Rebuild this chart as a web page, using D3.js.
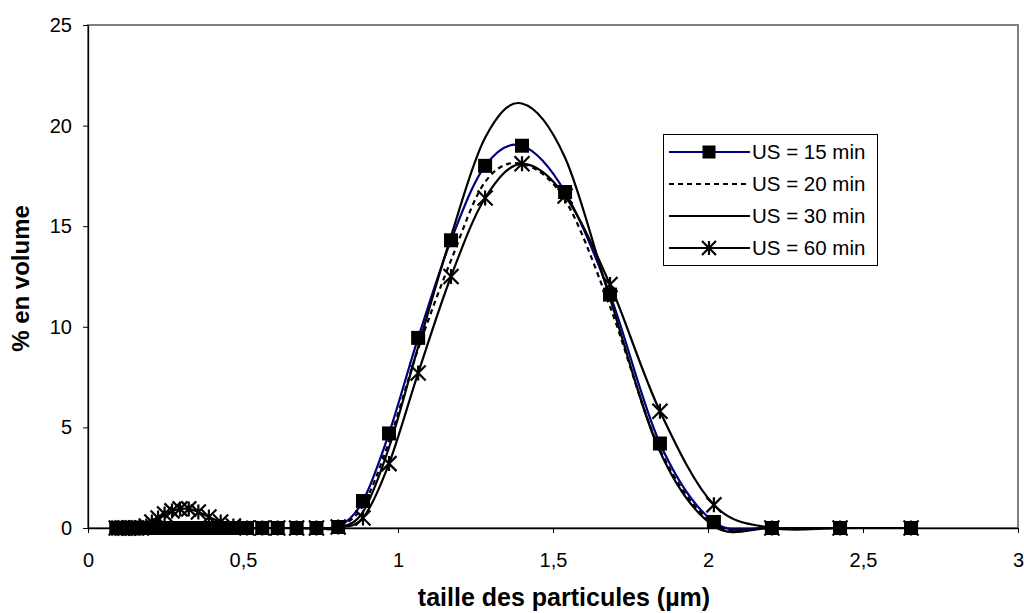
<!DOCTYPE html>
<html><head><meta charset="utf-8">
<script src="https://cdn.jsdelivr.net/npm/d3@7"></script>
<style>
html,body{margin:0;padding:0;background:#fff;}
svg{display:block;font-family:Arial,"Liberation Sans",sans-serif;}
</style></head>
<body><svg id="c" width="1024" height="613"></svg>
<script>
// particle size classes (µm)
const sizes = [0.091,0.0995,0.109,0.119,0.131,0.143,0.157,0.172,0.188,0.206,0.226,0.247,0.271,0.297,0.325,0.356,0.390,0.428,0.469,0.513,0.562,0.612,0.673,0.737,0.807,0.887,0.971,1.065,1.171,1.281,1.40,1.539,1.684,1.845,2.019,2.206,2.426,2.655];
const us15 = [0,0,0,0,0,0,0,0,0,0,0,0,0,0,0,0,0,0,0,0,0,0,0,0,0.05,1.34,4.7,9.45,14.3,18.0,19.0,16.7,11.6,4.2,0.3,0,0,0];
const us20 = [0,0,0,0,0,0,0,0,0,0,0,0,0,0,0,0,0,0,0,0,0,0,0,0,0.05,1.1,4.3,8.9,13.3,17.2,18.1,16.3,11.0,3.9,0.2,0,0,0];
const us30 = [0,0,0,0,0,0,0,0,0,0,0,0,0,0,0,0,0,0,0,0,0,0,0,0,0,0.8,4.0,9.0,14.5,19.4,21.1,18.4,11.4,3.8,0.1,0,0,0];
const us60 = [0,0,0,0,0,0,0,0,0.1,0.3,0.5,0.7,0.85,0.95,0.95,0.8,0.55,0.3,0.1,0,0,0,0,0,0.05,0.5,3.2,7.7,12.5,16.4,18.1,16.5,12.1,5.8,1.15,0,0,0];
const seriesNames = ["US = 15 min","US = 20 min","US = 30 min","US = 60 min"];
const xTicks = [0,0.5,1,1.5,2,2.5,3];
const xTickLabels = ["0","0,5","1","1,5","2","2,5","3"];
const yTicks = [0,5,10,15,20,25];
const xTitle = "taille des particules (µm)";
const yTitle = "% en volume";

const svg = d3.select("#c");
const L=88, T=25, R=1018, B=528;
const x = d3.scaleLinear().domain([0,3]).range([L,R]);
const y = d3.scaleLinear().domain([0,25]).range([B,T]);

// plot area border
svg.append("rect").attr("x",L).attr("y",T).attr("width",R-L).attr("height",B-T)
  .attr("fill","none").attr("stroke","#808080").attr("stroke-width",2);

// axes
const xAxis = d3.axisBottom(x).tickValues(xTicks).tickFormat((d,i)=>xTickLabels[i]).tickSizeInner(5).tickSizeOuter(0).tickPadding(20);
const gx = svg.append("g").attr("transform",`translate(0,${B})`).call(xAxis);
const yAxis = d3.axisLeft(y).tickValues(yTicks).tickFormat(d=>String(d)).tickSizeInner(5).tickSizeOuter(0).tickPadding(11);
const gy = svg.append("g").attr("transform",`translate(${L},0)`).call(yAxis);
[gx,gy].forEach(g=>{
  g.select(".domain").attr("stroke","#000").attr("stroke-width",1.3);
  g.selectAll(".tick line").attr("stroke","#000");
  g.selectAll(".tick text").attr("font-size",20).attr("fill","#000").attr("font-family","Arial, 'Liberation Sans', sans-serif");
});

svg.append("text").attr("x",564).attr("y",606).attr("text-anchor","middle")
  .attr("font-size",25).attr("font-weight","bold").text(xTitle);
svg.append("text").attr("transform",`translate(29,${(T+B)/2+2}) rotate(-90)`).attr("text-anchor","middle")
  .attr("font-size",24).attr("font-weight","bold").text(yTitle);

const line = d3.line().x(d=>x(d[0])).y(d=>y(d[1])).curve(d3.curveCatmullRom.alpha(0));
const data = [us15,us20,us30,us60].map(v=>sizes.map((s,i)=>[s,v[i]]));
const styles = [
  {stroke:"#000080", dash:null, marker:"square"},
  {stroke:"#000", dash:"5,4", marker:null},
  {stroke:"#000", dash:null, marker:null},
  {stroke:"#000", dash:null, marker:"star"}
];

function drawMarker(g, type, cx, cy, ms){
  if(type==="square"){
    g.append("rect").attr("x",cx-ms/2).attr("y",cy-ms/2).attr("width",ms).attr("height",ms).attr("fill","#000");
  } else if(type==="star"){
    const r=ms/2+0.5;
    g.append("path").attr("d",`M${cx-r},${cy-r}L${cx+r},${cy+r}M${cx-r},${cy+r}L${cx+r},${cy-r}M${cx},${cy-r}L${cx},${cy+r}`)
      .attr("stroke","#000").attr("stroke-width",2.2).attr("fill","none");
  }
}

const plot = svg.append("g");
data.forEach((d,k)=>{
  const st=styles[k];
  const g = plot.append("g");
  g.append("path").attr("d",line(d)).attr("fill","none").attr("stroke",st.stroke)
    .attr("stroke-width",2.2).attr("stroke-dasharray",st.dash);
  if(st.marker) d.forEach(p=>drawMarker(g,st.marker,x(p[0]),y(p[1]),14));
});

// legend
const lg = svg.append("g");
lg.append("rect").attr("x",663.5).attr("y",134.5).attr("width",214).attr("height",131)
  .attr("fill","#fff").attr("stroke","#000").attr("stroke-width",1);
seriesNames.forEach((n,k)=>{
  const st=styles[k]; const yy=152+k*32;
  lg.append("line").attr("x1",669).attr("x2",750).attr("y1",yy).attr("y2",yy)
    .attr("stroke",st.stroke).attr("stroke-width",2.2).attr("stroke-dasharray",st.dash);
  if(st.marker) drawMarker(lg,st.marker,709,yy,13);
  lg.append("text").attr("x",752).attr("y",yy).attr("dy","0.36em").attr("font-size",20.5).text(n);
});
</script></body></html>
